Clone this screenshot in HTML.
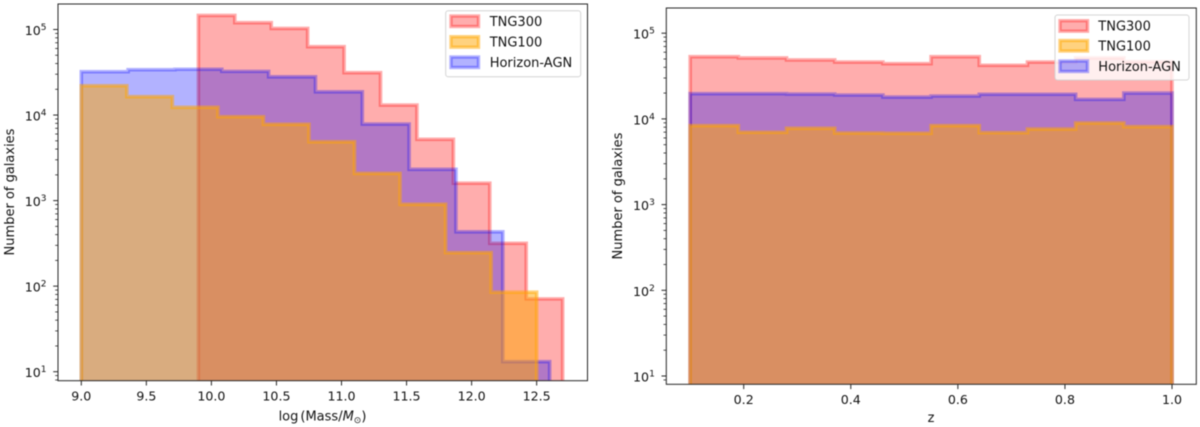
<!DOCTYPE html>
<html lang="en">
<head>
<meta charset="utf-8">
<title>Galaxy histograms</title>
<style>
html,body{margin:0;padding:0;background:#fff;width:1200px;height:427px;overflow:hidden}
#chart{display:block;filter:blur(0.4px)}
text{font-family:"DejaVu Sans","Liberation Sans",sans-serif;font-size:12.6px;fill:#111}
text.big{font-size:13px}
</style>
</head>
<body>
<svg id="chart" xmlns="http://www.w3.org/2000/svg" width="1200" height="427" viewBox="0 0 1200 427">
<defs>
<clipPath id="clip-mass"><rect x="58" y="4" width="529.5" height="376.7"/></clipPath>
<clipPath id="clip-z"><rect x="666.3" y="8" width="530" height="376.3"/></clipPath>
</defs>
<g id="mass-panel">
<rect x="58" y="4" width="529.5" height="376.7" fill="#fff"/>
<g id="mass-series" clip-path="url(#clip-mass)"></g>
<rect x="58" y="4" width="529.5" height="376.7" fill="none" stroke="#262626" stroke-width="1"/>
<g id="mass-ticks"></g>
<text class="big" transform="translate(14,192) rotate(-90)" text-anchor="middle">Number of galaxies</text>
<text class="big" x="322.5" y="420.5" text-anchor="middle">log<tspan dx="2">(Mass/</tspan><tspan font-style="italic">M</tspan><tspan font-size="9" dy="2.5">⊙</tspan><tspan dy="-2.5">)</tspan></text>
<g>
<rect x="445.7" y="10.7" width="135" height="66" rx="2.5" fill="#fff" fill-opacity="0.8" stroke="#d4d4d4" stroke-width="1"/>
<rect x="451" y="16" width="27.5" height="10.5" fill="#ff0000" fill-opacity="0.32" stroke="#ff0000" stroke-opacity="0.32" stroke-width="3.4"/>
<text class="big" x="489.7" y="26">TNG300</text>
<rect x="451" y="36.7" width="27.5" height="10.5" fill="#ffa500" fill-opacity="0.5" stroke="#ffa500" stroke-opacity="0.5" stroke-width="3.4"/>
<text class="big" x="489.7" y="46.3">TNG100</text>
<rect x="451" y="57" width="27.5" height="10.5" fill="#0000ff" fill-opacity="0.3" stroke="#0000ff" stroke-opacity="0.3" stroke-width="3.4"/>
<text class="big" x="489.7" y="67">Horizon-AGN</text>
</g>
</g>
<g id="z-panel">
<rect x="666.3" y="8" width="530" height="376.3" fill="#fff"/>
<g id="z-series" clip-path="url(#clip-z)"></g>
<rect x="666.3" y="8" width="530" height="376.3" fill="none" stroke="#262626" stroke-width="1"/>
<g id="z-ticks"></g>
<text class="big" transform="translate(622,196) rotate(-90)" text-anchor="middle">Number of galaxies</text>
<text class="big" x="931" y="422" text-anchor="middle">z</text>
<g>
<rect x="1055" y="15" width="134" height="65" rx="2.5" fill="#fff" fill-opacity="0.8" stroke="#d4d4d4" stroke-width="1"/>
<rect x="1060" y="20.7" width="27.5" height="10.5" fill="#ff0000" fill-opacity="0.32" stroke="#ff0000" stroke-opacity="0.32" stroke-width="3.4"/>
<text class="big" x="1098.3" y="30.7">TNG300</text>
<rect x="1060" y="40.5" width="27.5" height="10.5" fill="#ffa500" fill-opacity="0.5" stroke="#ffa500" stroke-opacity="0.5" stroke-width="3.4"/>
<text class="big" x="1098.3" y="50.7">TNG100</text>
<rect x="1060" y="61" width="27.5" height="10.5" fill="#0000ff" fill-opacity="0.3" stroke="#0000ff" stroke-opacity="0.3" stroke-width="3.4"/>
<text class="big" x="1098.3" y="71">Horizon-AGN</text>
</g>
</g>
</svg>
<script>
// Bin edges (data units)
const massEdgesTng300 = [9.9, 10.18, 10.46, 10.74, 11.02, 11.3, 11.58, 11.86, 12.14, 12.42, 12.7];
const massEdgesTng100 = [9.0, 9.35, 9.7, 10.05, 10.4, 10.75, 11.1, 11.45, 11.8, 12.15, 12.5];
const massEdgesAgn = [9.0, 9.36, 9.72, 10.08, 10.44, 10.8, 11.16, 11.52, 11.88, 12.24, 12.6];
const zEdges = [0.1, 0.19, 0.28, 0.37, 0.46, 0.55, 0.64, 0.73, 0.82, 0.91, 1.0];

// Galaxy counts per bin
const massCountsTng300 = [146000, 120000, 103000, 63000, 31300, 13100, 5200, 1600, 317, 71];
const massCountsTng100 = [22000, 16400, 12300, 9550, 7800, 4870, 2080, 905, 246, 85];
const massCountsAgn = [32100, 33900, 34300, 32400, 28000, 18700, 7850, 2320, 432, 13.1];
const zCountsTng300 = [53200, 51400, 48700, 46100, 44100, 53200, 42200, 46100, 51400, 46500];
const zCountsTng100 = [8340, 6980, 7760, 6840, 6790, 8340, 6900, 7620, 8950, 8110];
const zCountsAgn = [19700, 19700, 19500, 19000, 18000, 18500, 19400, 19400, 16900, 20000];

// Tick labels
const massTickValues = [9.0, 9.5, 10.0, 10.5, 11.0, 11.5, 12.0, 12.5];
const massTickLabels = ["9.0", "9.5", "10.0", "10.5", "11.0", "11.5", "12.0", "12.5"];
const zTickValues = [0.2, 0.4, 0.6, 0.8, 1.0];
const zTickLabels = ["0.2", "0.4", "0.6", "0.8", "1.0"];
const yTickExponents = [1, 2, 3, 4, 5];

const NS = "http://www.w3.org/2000/svg";
function make(tag, parent, attrs) {
  const node = document.createElementNS(NS, tag);
  for (const key in attrs) node.setAttribute(key, attrs[key]);
  parent.appendChild(node);
  return node;
}

// Axis functions
function massX(v) { return 81.3 + (v - 9) * 130.1; }
function massY(v) { return 371.7 - 85.55 * (Math.log10(v) - 1); }
function zX(v) { return 743.7 + (v - 0.2) * 535.4; }
function zY(v) { return 376 - 85.7 * (Math.log10(v) - 1); }

function stepPath(edges, counts, xFn, yFn, base) {
  let d = "M" + xFn(edges[0]).toFixed(2) + "," + base;
  counts.forEach(function (c, i) {
    const y = yFn(c).toFixed(2);
    d += "L" + xFn(edges[i]).toFixed(2) + "," + y;
    d += "L" + xFn(edges[i + 1]).toFixed(2) + "," + y;
  });
  d += "L" + xFn(edges[edges.length - 1]).toFixed(2) + "," + base + "Z";
  return d;
}

function drawSeries(group, edges, counts, xFn, yFn, base, color, alpha, strokeAlpha, name) {
  const p = make("path", group, {
    d: stepPath(edges, counts, xFn, yFn, base),
    fill: color,
    "fill-opacity": alpha,
    stroke: color,
    "stroke-opacity": strokeAlpha,
    "stroke-width": 3.6,
    "stroke-linejoin": "miter"
  });
  
  
}

function drawTicks(group, cfg) {
  cfg.xValues.forEach(function (v, i) {
    const x = cfg.xFn(v);
    const t = make("line", group, { x1: x, x2: x, y1: cfg.bottom, y2: cfg.bottom + 4.8, stroke: "#262626", "stroke-width": 1 });
    
    
    const lab = make("text", group, { x: x, y: cfg.xLabelY, "text-anchor": "middle" });
    lab.textContent = cfg.xLabels[i];
    
    
  });
  for (let e = 0; e <= 5; e++) {
    for (let m = 2; m <= 9; m++) {
      const y = cfg.yFn(m * Math.pow(10, e));
      if (y < cfg.top || y > cfg.bottom) continue;
      const mt = make("line", group, { x1: cfg.left - 2.8, x2: cfg.left, y1: y, y2: y, stroke: "#262626", "stroke-width": 0.8 });
      
      
    }
  }
  yTickExponents.forEach(function (e) {
    const y = cfg.yFn(Math.pow(10, e));
    const t = make("line", group, { x1: cfg.left - 4.8, x2: cfg.left, y1: y, y2: y, stroke: "#262626", "stroke-width": 1 });
    
    
    const lab = make("text", group, { x: cfg.left - 11.5, y: y + 5.5, "text-anchor": "end" });
    
    
    lab.appendChild(document.createTextNode("10"));
    const sup = make("tspan", lab, { dy: -5, "font-size": 9 });
    sup.textContent = String(e);
  });
}

const massGroup = document.getElementById("mass-series");
drawSeries(massGroup, massEdgesTng300, massCountsTng300, massX, massY, 386, "#ff0000", 0.32, 0.32, "mass-tng300-histogram");
drawSeries(massGroup, massEdgesAgn, massCountsAgn, massX, massY, 386, "#0000ff", 0.3, 0.3, "mass-horizon-agn-histogram");
drawSeries(massGroup, massEdgesTng100, massCountsTng100, massX, massY, 386, "#ffa500", 0.5, 0.5, "mass-tng100-histogram");

const zGroup = document.getElementById("z-series");
drawSeries(zGroup, zEdges, zCountsTng300, zX, zY, 390, "#ff0000", 0.32, 0.32, "z-tng300-histogram");
drawSeries(zGroup, zEdges, zCountsAgn, zX, zY, 390, "#0000ff", 0.3, 0.3, "z-horizon-agn-histogram");
drawSeries(zGroup, zEdges, zCountsTng100, zX, zY, 390, "#ffa500", 0.5, 0.5, "z-tng100-histogram");

drawTicks(document.getElementById("mass-ticks"), {
  xValues: massTickValues, xLabels: massTickLabels, xFn: massX, yFn: massY,
  left: 58, top: 4, bottom: 380.7, xLabelY: 400.7
});
drawTicks(document.getElementById("z-ticks"), {
  xValues: zTickValues, xLabels: zTickLabels, xFn: zX, yFn: zY,
  left: 666.3, top: 8, bottom: 384.3, xLabelY: 404
});
</script>
</body>
</html>
